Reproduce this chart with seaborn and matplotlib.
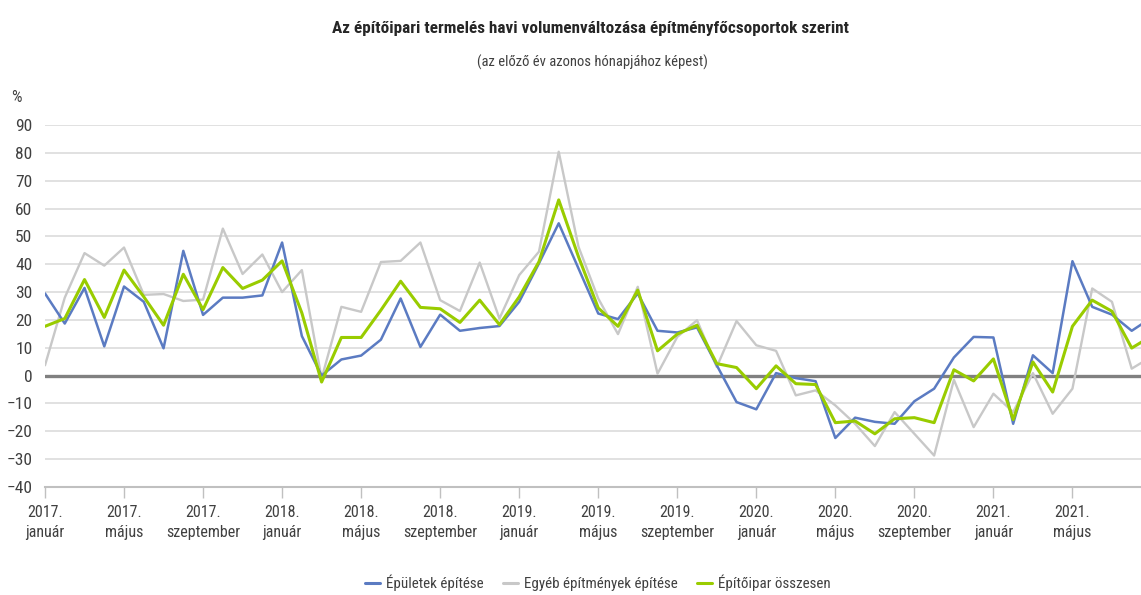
import numpy as np
import pandas as pd
import matplotlib
matplotlib.use("Agg")
import matplotlib.pyplot as plt
import seaborn as sns

# ---- data -------------------------------------------------------------
epuletek = [29.5, 18.7, 31.5, 10.5, 32.0, 26.5, 9.8, 44.8, 21.8, 28.0, 28.0, 28.8,
            47.8, 14.2, 0.0, 5.8, 7.2, 12.9, 27.7, 10.3, 21.9, 16.1, 17.1, 17.8,
            26.5, 40.3, 54.7, 38.5, 22.3, 20.3, 29.5, 16.1, 15.5, 17.3, 3.7, -9.5,
            -12.1, 0.9, -0.9, -2.0, -22.4, -15.1, -16.6, -17.3, -9.2, -4.7, 6.5, 13.9,
            13.7, -17.3, 7.3, 0.9, 41.1, 24.7, 21.9, 16.1, 20.8]
egyeb = [3.7, 28.0, 44.0, 39.5, 46.0, 29.0, 29.3, 26.8, 27.3, 52.8, 36.5, 43.5,
         30.0, 37.9, -1.0, 24.7, 22.9, 40.8, 41.2, 47.8, 27.1, 23.2, 40.6, 20.5,
         36.1, 44.5, 80.4, 46.3, 27.7, 14.9, 31.9, 0.7, 13.9, 19.9, 3.1, 19.6,
         10.9, 8.9, -7.1, -5.3, -10.7, -17.3, -25.3, -13.1, -20.9, -28.7, -1.5, -18.5,
         -6.5, -13.1, 0.9, -13.7, -4.7, 31.3, 26.5, 2.5, 6.8]
osszesen = [17.7, 20.5, 34.5, 20.9, 37.9, 28.3, 18.1, 36.4, 23.7, 38.8, 31.3, 34.3,
            41.2, 22.5, -2.3, 13.7, 13.7, 23.5, 33.9, 24.5, 24.0, 19.1, 27.1, 18.3,
            28.3, 40.9, 63.1, 42.7, 24.3, 17.7, 30.7, 8.9, 14.9, 18.1, 4.3, 2.9,
            -4.7, 3.5, -2.9, -3.2, -16.9, -16.3, -20.9, -15.5, -15.1, -16.9, 2.1, -1.9,
            6.0, -15.8, 4.9, -5.9, 17.7, 27.1, 23.1, 9.9, 14.2]

series_names = ["Épületek építése", "Egyéb építmények építése", "Építőipar összesen"]
tick_labels = ["2017.\njanuár", "2017.\nmájus", "2017.\nszeptember",
               "2018.\njanuár", "2018.\nmájus", "2018.\nszeptember",
               "2019.\njanuár", "2019.\nmájus", "2019.\nszeptember",
               "2020.\njanuár", "2020.\nmájus", "2020.\nszeptember",
               "2021.\njanuár", "2021.\nmájus"]

colors = {"Épületek építése": "#5b7bc2",
          "Egyéb építmények építése": "#c8c8c8",
          "Építőipar összesen": "#99cc00"}

n = len(epuletek)
month = np.arange(n)
df = pd.DataFrame({
    "month": np.concatenate([month, month, month]),
    "value": np.concatenate([epuletek, egyeb, osszesen]),
    "series": np.repeat(series_names, n),
})

# ---- figure -----------------------------------------------------------
sns.set_theme(style="white")
plt.rcParams["font.family"] = ["Roboto Condensed", "Liberation Sans", "DejaVu Sans"]
plt.rcParams["axes.unicode_minus"] = True
text_color = "#404040"

fig = plt.figure(figsize=(11.41, 5.95), dpi=100)
ax = fig.add_axes([45 / 1141, 1 - 487 / 595, (1141 - 45) / 1141, (487 - 125) / 595])

sns.lineplot(data=df, x="month", y="value", hue="series", hue_order=series_names,
             palette=colors, ax=ax, legend=False, linewidth=1.7)

# line stacking and widths: grey bottom, blue, green on top
zo = {0: 3, 1: 2.5, 2: 4}
lw = {0: 1.8, 1: 1.7, 2: 2.2}
for i, line in enumerate(ax.lines[:3]):
    line.set_zorder(zo[i])
    line.set_linewidth(lw[i])

ax.set_xlim(0, 55.47)
ax.set_ylim(-40, 90)
ax.set_yticks(np.arange(-40, 91, 10))
ax.set_xticks(np.arange(0, 53, 4))
ax.set_xticklabels(tick_labels, linespacing=1.45)
ax.set_xlabel("")
ax.set_ylabel("")

ax.grid(axis="y", color="#d9d9d9", linewidth=1.1, zorder=0)
ax.grid(axis="x", visible=False)
ax.axhline(0, color="#808080", linewidth=2.4, zorder=1.5)

for s in ["top", "right", "left"]:
    ax.spines[s].set_visible(False)
ax.spines["bottom"].set_color("#c0c0c0")
ax.spines["bottom"].set_linewidth(1.5)

ax.tick_params(axis="y", length=0, pad=9, labelsize=12.5, labelcolor=text_color)
ax.tick_params(axis="x", length=8, width=1, color="#c0c0c0", pad=5,
               labelsize=11.5, labelcolor=text_color, bottom=True)

fig.text(16 / 1141, 1 - 97 / 595, "%", ha="center", va="center",
         fontsize=12, color=text_color)
fig.text(591 / 1141, 1 - 28 / 595,
         "Az építőipari termelés havi volumenváltozása építményfőcsoportok szerint",
         ha="center", va="center", fontsize=12.3, fontweight="bold", color="#262626")
fig.text(592 / 1141, 1 - 62 / 595, "(az előző év azonos hónapjához képest)",
         ha="center", va="center", fontsize=10.5, color=text_color)

handles = [plt.Line2D([], [], color=colors[s], linewidth=2.2) for s in series_names]
fig.legend(handles, series_names, loc="center", bbox_to_anchor=(598 / 1141, 1 - 583 / 595),
           ncol=3, frameon=False, handlelength=1.0, handletextpad=0.4,
           columnspacing=1.3, fontsize=10.8, labelcolor=text_color)

fig.savefig("out.png", dpi=100)
